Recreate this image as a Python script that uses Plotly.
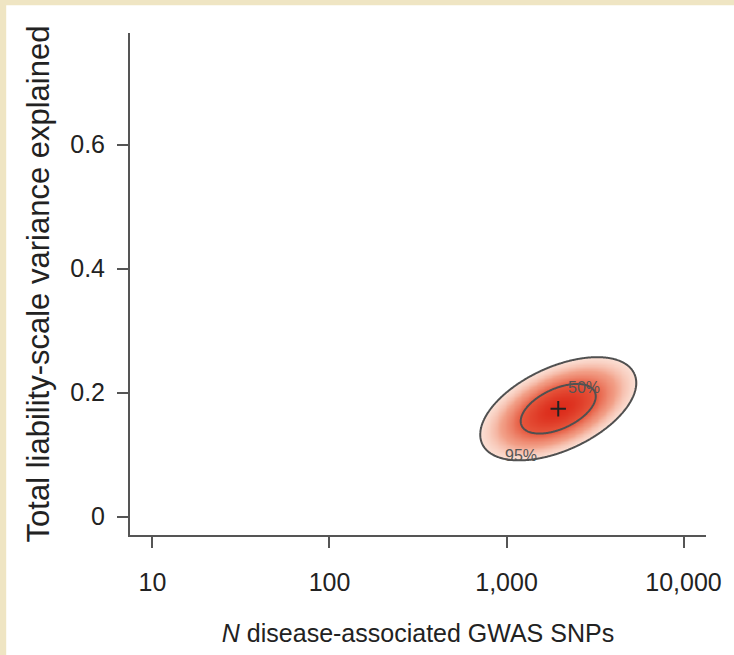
import numpy as np
import plotly.graph_objects as go

# ---- values ----
x_tick_vals = [10, 100, 1000, 10000]
x_tick_text = ["10", "100", "1,000", "10,000"]
y_tick_vals = [0, 0.2, 0.4, 0.6]
y_tick_text = ["0", "0.2", "0.4", "0.6"]

# joint estimate (centre) and its spread, read from the ellipse
center_n = 1960          # N disease-associated GWAS SNPs
center_h2 = 0.174        # total liability-scale variance explained
sd_log10_n = 0.18        # spread in log10(N)
sd_h2 = 0.034            # spread in variance explained
rho = 0.5                # correlation

contour_levels = [0.95, 0.50]          # credible regions drawn
contour_labels = ["95%", "50%"]
label_n = [1200, 2750]
label_h2 = [0.098, 0.209]

# ---- density field from the read parameters ----
gx = np.linspace(np.log10(center_n) - 0.75, np.log10(center_n) + 0.75, 301)
gy = np.linspace(center_h2 - 0.14, center_h2 + 0.14, 301)
GX, GY = np.meshgrid(gx, gy)
u = (GX - np.log10(center_n)) / sd_log10_n
v = (GY - center_h2) / sd_h2
m2 = (u * u - 2 * rho * u * v + v * v) / (1 - rho * rho)
dens = np.exp(-m2 / 2)
lvl = [float(1 - p) for p in contour_levels]  # exp(-chi2_2(p)/2) = 1-p

cream = "#efe5c3"
axis_col = "#555555"
font_fam = "Liberation Sans, Arial, sans-serif"

fig = go.Figure()
fig.add_trace(go.Contour(
    x=10 ** gx, y=gy, z=dens,
    zmin=0, zmax=1,
    colorscale=[[0.0, "#ffffff"], [0.049, "#ffffff"], [0.05, "#fbe0d5"],
                [0.2, "#f2a088"], [0.5, "#e6573d"], [1.0, "#dc2c1b"]],
    showscale=False,
    contours=dict(coloring="heatmap", start=lvl[0], end=lvl[1], size=lvl[1] - lvl[0],
                  showlines=True),
    line=dict(color="#505050", width=2),
    hoverinfo="skip",
))
fig.add_trace(go.Scatter(
    x=[center_n], y=[center_h2], mode="markers",
    marker=dict(symbol="cross-thin", size=11, line=dict(color="#222222", width=2)),
    showlegend=False, hoverinfo="skip",
))
for t, xn, yh in zip(contour_labels, label_n, label_h2):
    fig.add_annotation(x=np.log10(xn), y=yh, text=t, showarrow=False,
                       font=dict(family=font_fam, size=16, color="#555555"))

# cream frame on top/left, white page
fig.add_shape(type="rect", xref="paper", yref="paper",
              x0=(6 - 130) / 577, x1=2.0, y0=-0.5, y1=(538 - 5) / 505,
              fillcolor="white", line=dict(width=0), layer="below")

fig.update_layout(
    width=734, height=655,
    margin=dict(l=130, r=27, t=33, b=117),
    paper_bgcolor=cream, plot_bgcolor="white",
    showlegend=False,
    font=dict(family=font_fam, color="#222222"),
    xaxis=dict(type="log", range=[0.873, 4.127],
               tickvals=x_tick_vals, ticktext=x_tick_text,
               showline=True, linecolor=axis_col, linewidth=2,
               ticks="outside", ticklen=11, tickwidth=2, tickcolor=axis_col,
               showgrid=False, zeroline=False,
               tickfont=dict(size=25, color="#222222"), ticklabelstandoff=13,
               title=dict(text="<i>N</i> disease-associated GWAS SNPs",
                          font=dict(size=25, color="#222222"), standoff=29)),
    yaxis=dict(range=[-0.0296, 0.780],
               tickvals=y_tick_vals, ticktext=y_tick_text,
               showline=True, linecolor=axis_col, linewidth=2,
               ticks="outside", ticklen=11, tickwidth=2, tickcolor=axis_col,
               showgrid=False, zeroline=False,
               tickfont=dict(size=25, color="#222222"), ticklabelstandoff=7,
               title=dict(text="Total liability-scale variance explained",
                          font=dict(size=31, color="#222222"), standoff=11)),
)

fig.write_html("out.html", config={"displayModeBar": False},
               post_script="document.body.style.margin='0';document.body.style.padding='0';")
